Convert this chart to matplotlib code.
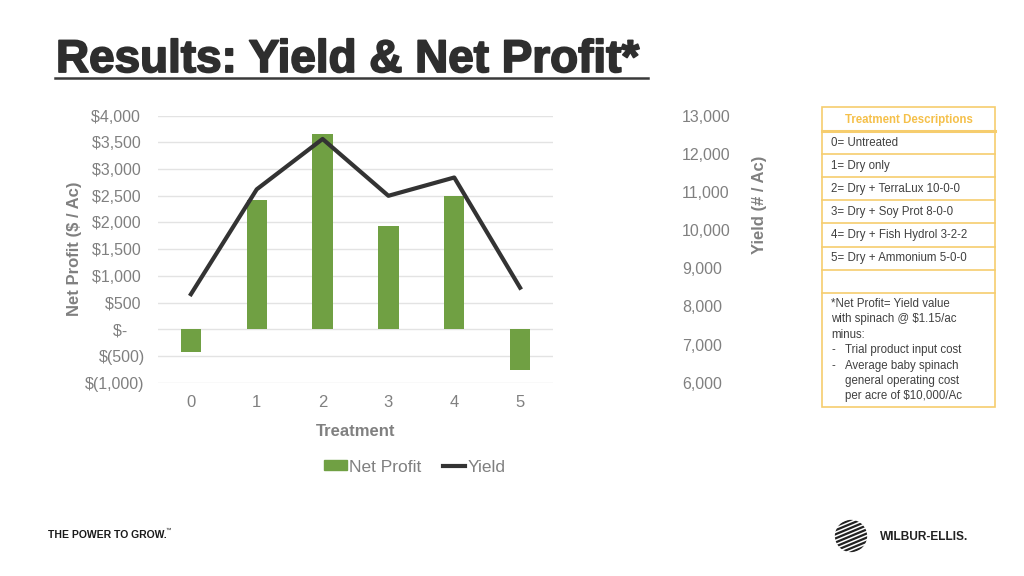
import numpy as np
import matplotlib.pyplot as plt
import matplotlib.patheffects as pe
from matplotlib.patches import Rectangle, Circle
from matplotlib.lines import Line2D
from matplotlib.ticker import FuncFormatter

plt.rcParams['font.family'] = ['Liberation Sans', 'DejaVu Sans']

# dati
treatments = ['0', '1', '2', '3', '4', '5']
net_profit = [-420, 2420, 3650, 1940, 2500, -770]
yield_ac = [8320, 11070, 12390, 10900, 11380, 8490]

descriptions = [
    '0= Untreated',
    '1= Dry only',
    '2= Dry + TerraLux 10-0-0',
    '3= Dry + Soy Prot 8-0-0',
    '4= Dry + Fish Hydrol 3-2-2',
    '5= Dry + Ammonium 5-0-0',
    '',
]
# (trattino?, testo) per la nota in fondo
note_lines = [
    (False, '*Net Profit= Yield value'),
    (False, 'with spinach @ $1.15/ac'),
    (False, 'minus:'),
    (True, 'Trial product input cost'),
    (True, 'Average baby spinach'),
    (False, 'general operating cost'),
    (False, 'per acre of $10,000/Ac'),
]

GREEN = '#70a043'
LINE = '#333333'
GREY = '#808080'
ORANGE = '#f6cd6e'
TXT = '#404040'

W, H = 1024, 576
fig = plt.figure(figsize=(W / 100, H / 100), dpi=100)


def fx(px):
    return px / W


def fy(py):
    return 1 - py / H


# --- titolo
fig.text(fx(56), fy(72), 'Results: Yield & Net Profit*', fontsize=33, fontweight='bold',
         color='#2e2e2e', ha='left', va='baseline',
         path_effects=[pe.Stroke(linewidth=1.3, foreground='#2e2e2e'), pe.Normal()])
fig.add_artist(Line2D([fx(55), fx(648)], [fy(78), fy(78)], color='#3a3a3a', lw=1.8))

# --- grafico
ax = fig.add_axes([fx(158), fy(382.7), fx(553 - 158), (382.7 - 115.7) / H])
x = np.arange(len(treatments))
ax.bar(x, net_profit, width=0.31, color=GREEN, zorder=2, label='Net Profit')
ax.set_ylim(-1000, 4000)
ax.set_xlim(-0.5, len(treatments) - 0.5)
ax.set_yticks(np.arange(-1000, 4001, 500))
ax.grid(axis='y', color='#e3e3e3', lw=1, zorder=0)
ax.set_axisbelow(True)


def acct(v, pos):
    if v == 0:
        return '$-    '
    if v < 0:
        return '$({:,.0f})'.format(-v)
    return '${:,.0f} '.format(v)


ax.yaxis.set_major_formatter(FuncFormatter(acct))
ax.set_xticks(x)
ax.set_xticklabels(treatments)
ax.tick_params(length=0, labelsize=11.5, colors=GREY)
ax.tick_params(axis='x', labelsize=12, pad=9)
ax.tick_params(axis='y', pad=9.5)
for s in ax.spines.values():
    s.set_visible(False)
ax.set_xlabel('Treatment', fontsize=12, fontweight='bold', color=GREY, labelpad=10)
ax.set_ylabel('Net Profit ($ / Ac)', fontsize=12, fontweight='bold', color=GREY)
ax.yaxis.set_label_coords(-0.192, 0.5)

ax2 = ax.twinx()
ax2.plot(x, yield_ac, color=LINE, lw=3, zorder=3, label='Yield')
ax2.set_ylim(6000, 13000)
ax2.set_yticks(np.arange(6000, 13001, 1000))
ax2.yaxis.set_major_formatter(FuncFormatter(lambda v, p: '{:,.0f}'.format(v)))
ax2.tick_params(length=0, labelsize=11.5, colors=GREY)
ax2.tick_params(axis='y', pad=93)
for s in ax2.spines.values():
    s.set_visible(False)
ax2.set_ylabel('Yield (# / Ac)', fontsize=12, fontweight='bold', color=GREY)
ax2.yaxis.set_label_coords((752 - 158) / (553 - 158), (382.7 - 205) / 267)

handles = [Rectangle((0, 0), 1, 1, color=GREEN), Line2D([0], [0], color=LINE, lw=3)]
fig.legend(handles, ['Net Profit', 'Yield'], loc='center', bbox_to_anchor=(fx(415), fy(467)),
           ncol=2, frameon=False, fontsize=12.5, labelcolor=GREY, handlelength=1.3,
           handleheight=0.5, handletextpad=0.15, columnspacing=1.2)

# --- tabella descrizioni
L, R = 822, 995
top, bottom = 107, 407
fig.add_artist(Rectangle((fx(L), fy(bottom)), fx(R - L), (bottom - top) / H,
                         fill=False, ec=ORANGE, lw=1.2))
fig.text(fx((L + R) / 2), fy(119.5), 'Treatment Descriptions', fontsize=8.3,
         fontweight='bold', color='#f5c04a', ha='center', va='center')
row_lines = [131, 154.3, 177.3, 200.3, 223.3, 246.5, 269.5, 292.7]
for i, yl in enumerate(row_lines):
    fig.add_artist(Line2D([fx(L), fx(R)], [fy(yl), fy(yl)], color=ORANGE,
                          lw=2.2 if i == 0 else 1.2))
for i, d in enumerate(descriptions):
    yc = (row_lines[i] + row_lines[i + 1]) / 2
    fig.text(fx(831), fy(yc), d, fontsize=8.3, color=TXT, ha='left', va='center')

yc = 304
for dash, t in note_lines:
    if dash:
        fig.text(fx(831), fy(yc), '-', fontsize=8.3, color=TXT, ha='left', va='center')
    tx = 831 if (not dash and yc < 340) else 845
    fig.text(fx(tx), fy(yc), t, fontsize=8.3, color=TXT, ha='left', va='center')
    yc += 15.4

# --- piè di pagina
fig.text(fx(48), fy(535), 'THE POWER TO GROW.', fontsize=7.5, fontweight='heavy',
         color='#1a1a1a', ha='left', va='center')
fig.text(fx(166), fy(530), '™', fontsize=4, color='#1a1a1a', ha='left', va='center')

logo = fig.add_axes([fx(834), fy(553), fx(34), 34 / H])
logo.set_xlim(-1, 1)
logo.set_ylim(-1, 1)
logo.set_aspect('equal')
logo.axis('off')
clip = Circle((0, 0), 0.95, transform=logo.transData)
for k in np.arange(-1.2, 1.3, 0.24):
    ln, = logo.plot([-1.2, 1.2], [k - 0.5, k + 0.5], color='#222222', lw=1.6)
    ln.set_clip_path(clip)
fig.text(fx(880), fy(537), 'WILBUR-ELLIS.', fontsize=8.6, fontweight='bold',
         color='#222222', ha='left', va='center')

fig.savefig('out.png', dpi=100)
